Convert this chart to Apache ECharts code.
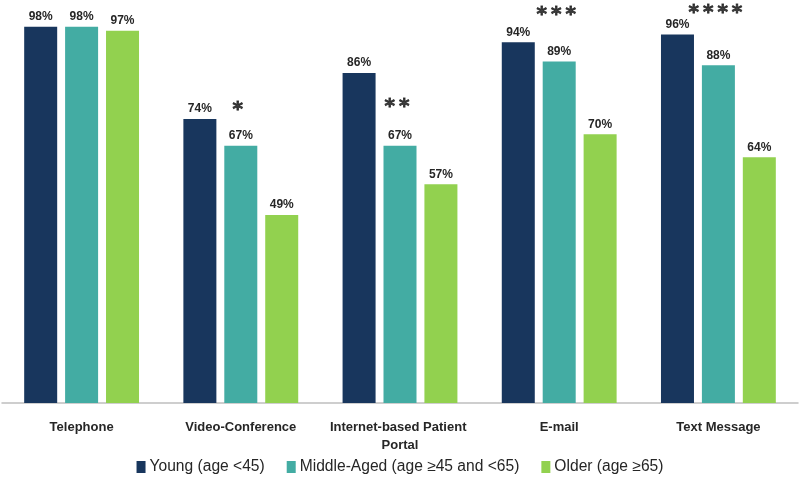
<!DOCTYPE html>
<html>
<head>
<meta charset="utf-8">
<script src="https://cdn.jsdelivr.net/npm/echarts@6/dist/echarts.min.js"></script>
<style>html,body{margin:0;padding:0;background:#fff}#c{width:800px;height:486px}</style>
</head>
<body>
<div id="c"></div>
<script>
var categories = ['Telephone', 'Video-Conference', 'Internet-based Patient Portal', 'E-mail', 'Text Message'];
var seriesNames = ['Young (age <45)', 'Middle-Aged (age \u226545 and <65)', 'Older (age \u226565)'];
var young = [98, 74, 86, 94, 96];
var middle = [98, 67, 67, 89, 88];
var older = [97, 49, 57, 70, 64];
var sigMarks = ['', '*', '**', '***', '****'];
var sigLevels = [null, 77.6, 78.6, 102.5, 103];
var colors = ['#18365d', '#43aca3', '#92d14f'];

var FONT = '"Liberation Sans", Arial, sans-serif';
var chart = echarts.init(document.getElementById('c'), null, {renderer: 'canvas'});

function barSeries(name, data, color) {
  return {
    name: name, type: 'bar', data: data, barWidth: 33, barGap: '24%',
    itemStyle: {color: color},
    label: {show: true, position: 'top', distance: 4, formatter: '{c}%',
      fontFamily: FONT, fontWeight: 'bold', fontSize: 12, color: '#262626'}
  };
}

var sigData = categories.map(function (c, i) {
  return sigLevels[i] == null ? null : [c, sigLevels[i]];
});

chart.setOption({
  animation: false,
  color: colors,
  textStyle: {fontFamily: FONT},
  grid: {left: 2, right: 2, top: 0, bottom: 83, containLabel: false, outerBoundsMode: 'none'},
  legend: {
    data: seriesNames, bottom: 6, left: 'center', itemWidth: 9, itemHeight: 12, itemGap: 22,
    icon: 'rect',
    textStyle: {fontFamily: FONT, fontSize: 15.6, color: '#262626', padding: [0, 0, 0, -1]}
  },
  xAxis: {
    type: 'category', data: categories,
    axisLine: {lineStyle: {color: '#bfbfbf', width: 1.5}},
    axisTick: {show: false},
    axisLabel: {fontFamily: FONT, fontWeight: 'bold', fontSize: 13, color: '#262626',
      margin: 15, width: 160, overflow: 'break', lineHeight: 18, interval: 0}
  },
  yAxis: {type: 'value', min: 0, max: 105, show: false, splitLine: {show: false}},
  series: [
    barSeries(seriesNames[0], young, colors[0]),
    barSeries(seriesNames[1], middle, colors[1]),
    barSeries(seriesNames[2], older, colors[2]),
    {
      type: 'scatter', data: sigData, symbolSize: 1, silent: true, clip: false,
      itemStyle: {color: 'rgba(0,0,0,0)'},
      label: {show: true, position: 'inside', offset: [-3, 5],
        formatter: function (p) { return sigMarks[p.dataIndex].split('').join('\u2009'); },
        fontFamily: 'DejaVu Sans', fontSize: 20, fontWeight: 'bold', color: '#111',
        textBorderColor: '#111', textBorderWidth: 0.8}
    }
  ]
});
</script>
</body>
</html>
